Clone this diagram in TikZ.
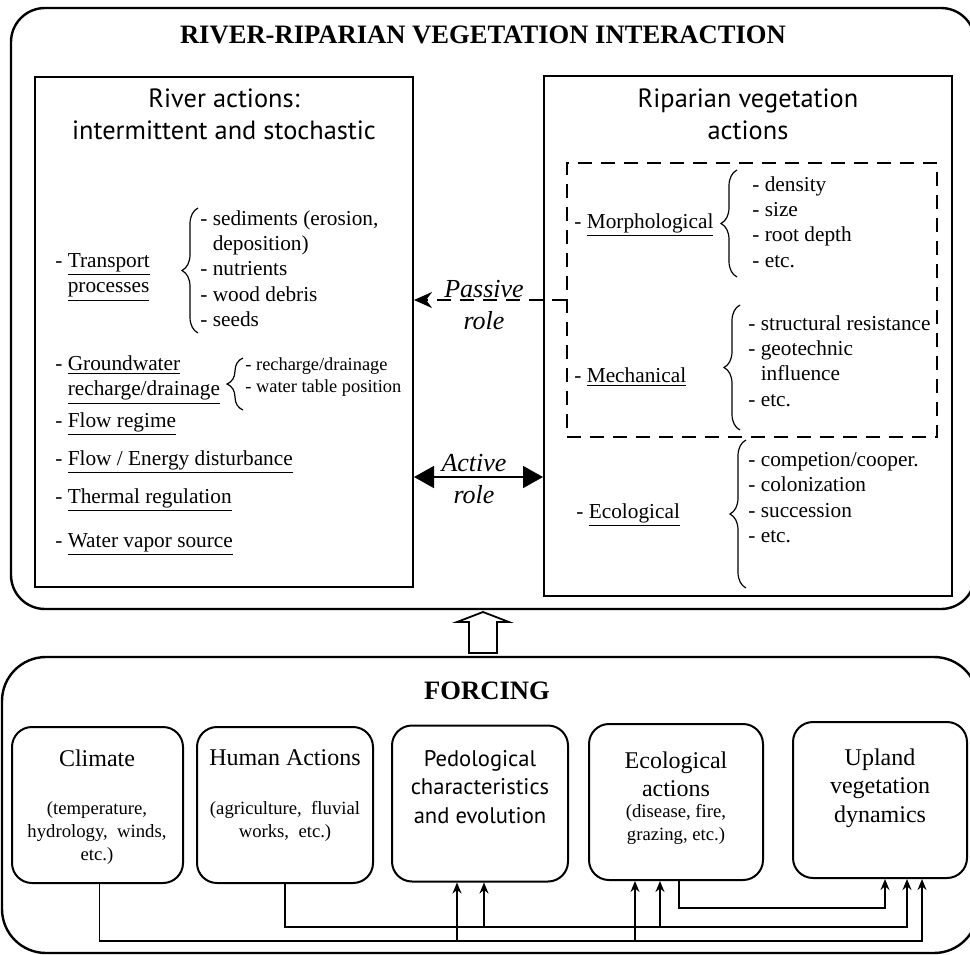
\documentclass[tikz,border=0pt]{standalone}
\usepackage{fontspec}
\setmainfont{Liberation Serif}
\setsansfont{PT Sans}
\usetikzlibrary{arrows.meta,decorations.pathreplacing}

\newcommand{\itemfont}{\fontsize{10.65}{12.7}\selectfont}
\newcommand{\smallfont}{\fontsize{9.2}{11}\selectfont}
\newcommand{\boxfont}{\fontsize{12}{14.25}\selectfont}
\newcommand{\subfont}{\fontsize{9.35}{11.3}\selectfont}

\tikzset{
  outerbox/.style={draw, line width=1.2pt, inner sep=0pt},
  box/.style={draw, line width=1pt, inner sep=0pt},
  dashbox/.style={draw, line width=0.8pt, dash pattern=on 7pt off 4.5pt, inner sep=0pt},
  forcebox/.style={draw, line width=1pt, rounded corners=10pt, inner sep=0pt,
    minimum height=78pt},
  titletxt/.style={font=\bfseries\fontsize{13.3}{15}\selectfont, anchor=base, inner sep=0pt},
  headtxt/.style={font=\sffamily\fontsize{13.2}{16}\selectfont, align=center, inner sep=0pt},
  itemtxt/.style={font=\itemfont, align=left, anchor=north west, inner sep=0pt},
  smalltxt/.style={font=\smallfont, align=left, anchor=north west, inner sep=0pt},
  roletxt/.style={font=\itshape\fontsize{13}{16}\selectfont, align=center, inner sep=0pt},
  boxtxt/.style={font=\boxfont, align=center, inner sep=0pt},
  subtxt/.style={font=\subfont, align=center, inner sep=0pt},
  brace/.style={decorate, decoration={brace, amplitude=8pt}, line width=0.6pt},
  link/.style={line width=0.7pt, -{Stealth[length=5.5pt,width=4.5pt]}}
}

\begin{document}
\begin{tikzpicture}[x=0.5pt,y=-0.5pt]
\clip (0,0) rectangle (970,954);

% the two frames
\node[outerbox, rounded corners=17pt, minimum width=482pt, minimum height=300.5pt] (interact) at (493,308.5) {};
\node[outerbox, rounded corners=22pt, minimum width=488pt, minimum height=148pt] (forcing) at (490,805) {};
\node[titletxt] (ttop) at (483,43) {RIVER-RIPARIAN VEGETATION INTERACTION};
\node[titletxt] (tbot) at (487,699) {FORCING};

% river actions
\node[box, minimum width=189pt, minimum height=255pt] (river) at (224,332) {};
\node[headtxt] (riverhead) at (224,114) {River actions:\\intermittent and stochastic};
\node[itemtxt] (trans) at (55,253) {- \underline{Transport}\\\hphantom{- }\underline{processes}};
\node[itemtxt] (translist) at (200,210) {- sediments (erosion,\\\hphantom{- }deposition)\\- nutrients\\- wood debris\\- seeds};
\draw[brace] (198,333) -- (198,208);
\node[itemtxt] (gw) at (55,355) {- \underline{Groundwater}\\\hphantom{- }\underline{recharge/drainage}};
\node[smalltxt] (gwlist) at (245,357) {- recharge/drainage\\- water table position};
\draw[brace] (243,410) -- (243,358);
\node[itemtxt] (flow) at (55,412) {- \underline{Flow regime}};
\node[itemtxt] (energy) at (55,450) {- \underline{Flow / Energy disturbance}};
\node[itemtxt] (thermal) at (55,488) {- \underline{Thermal regulation}};
\node[itemtxt] (vapor) at (55,533) {- \underline{Water vapor source}};

% vegetation actions
\node[box, minimum width=204pt, minimum height=260pt] (riparian) at (748,336) {};
\node[headtxt] (riphead) at (748,114) {Riparian vegetation\\actions};
\node[dashbox, minimum width=185pt, minimum height=137pt] (passbox) at (752,300) {};
\node[itemtxt] (morph) at (574,213) {- \underline{Morphological}};
\node[itemtxt] (morphlist) at (752,176) {- density\\- size\\- root depth\\- etc.};
\draw[brace] (737,277) -- (737,170);
\node[itemtxt] (mech) at (574,367) {- \underline{Mechanical}};
\node[itemtxt] (mechlist) at (748,315) {- structural resistance\\- geotechnic\\\hphantom{- }influence\\- etc.};
\draw[brace] (740,430) -- (740,305);
\node[itemtxt] (eco) at (576,503) {- \underline{Ecological}};
\node[itemtxt] (ecolist) at (748,452) {- competion/cooper.\\- colonization\\- succession\\- etc.};
\draw[brace] (746,588) -- (746,440);

% roles
\coordinate (actrow) at (474,477);
\draw[line width=0.8pt, dash pattern=on 7pt off 4.5pt, -{Stealth[length=9pt,width=8pt]}] (passbox.west) -- (river.east |- passbox.west);
\node[roletxt] (passive) at (484,305) {Passive\\role};
\draw[line width=0.8pt, {Triangle[length=10pt,width=11pt]}-{Triangle[length=10pt,width=11pt]}] (river.east |- actrow) -- (riparian.west |- actrow);
\node[roletxt] (active) at (474,479) {Active\\role};

% forcing to interaction
\draw[line width=0.9pt] (469,653) -- (469,622) -- (457,622) -- (483,612) -- (509,622) -- (497,622) -- (497,653) -- cycle;

% forcing boxes
\node[forcebox, minimum width=85.5pt] (clim) at (97.5,805) {};
\node[forcebox, minimum width=88pt] (human) at (285,805) {};
\node[forcebox, minimum width=88pt] (ped) at (480,803.5) {};
\node[forcebox, minimum width=87pt] (ecoact) at (676,802) {};
\node[forcebox, minimum width=87pt] (upland) at (880,800) {};
\node[boxtxt] (climtxt) at (97,758) {Climate};
\node[subtxt] (climsub) at (97,833) {(temperature,\\hydrology,\ \ winds,\\etc.)};
\node[boxtxt] (humtxt) at (285,758) {Human Actions};
\node[subtxt] (humsub) at (285,821.5) {(agriculture,\ \ fluvial\\works,\ \ etc.)};
\node[boxtxt, font=\sffamily\fontsize{11.3}{14.25}\selectfont] (pedtxt) at (480,787) {Pedological\\characteristics\\and evolution};
\node[boxtxt, font=\fontsize{12}{14}\selectfont] (ecotxt) at (676,774) {Ecological\\actions};
\node[subtxt] (ecosub) at (676,824.5) {(disease, fire,\\grazing, etc.)};
\node[boxtxt] (uptxt) at (880,788) {Upland\\vegetation\\dynamics};

% forcing links
\coordinate (busC) at (0,941);
\coordinate (busH) at (0,927);
\coordinate (busE) at (0,908);
\draw[link] ([xshift=1pt]clim.south) |- ([xshift=21pt]upland.south |- busC) -- ([xshift=21pt]upland.south);
\draw[link] ([xshift=-11.5pt]ped.south |- busC) -- ([xshift=-11.5pt]ped.south);
\draw[link] ([xshift=-20.5pt]ecoact.south |- busC) -- ([xshift=-20.5pt]ecoact.south);
\draw[link] (human.south) |- ([xshift=13.5pt]upland.south |- busH) -- ([xshift=13.5pt]upland.south);
\draw[link] ([xshift=2pt]ped.south |- busH) -- ([xshift=2pt]ped.south);
\draw[link] ([xshift=-8pt]ecoact.south |- busH) -- ([xshift=-8pt]ecoact.south);
\draw[link] ([xshift=1.5pt]ecoact.south) |- ([xshift=2.5pt]upland.south |- busE) -- ([xshift=2.5pt]upland.south);
\end{tikzpicture}
\end{document}
